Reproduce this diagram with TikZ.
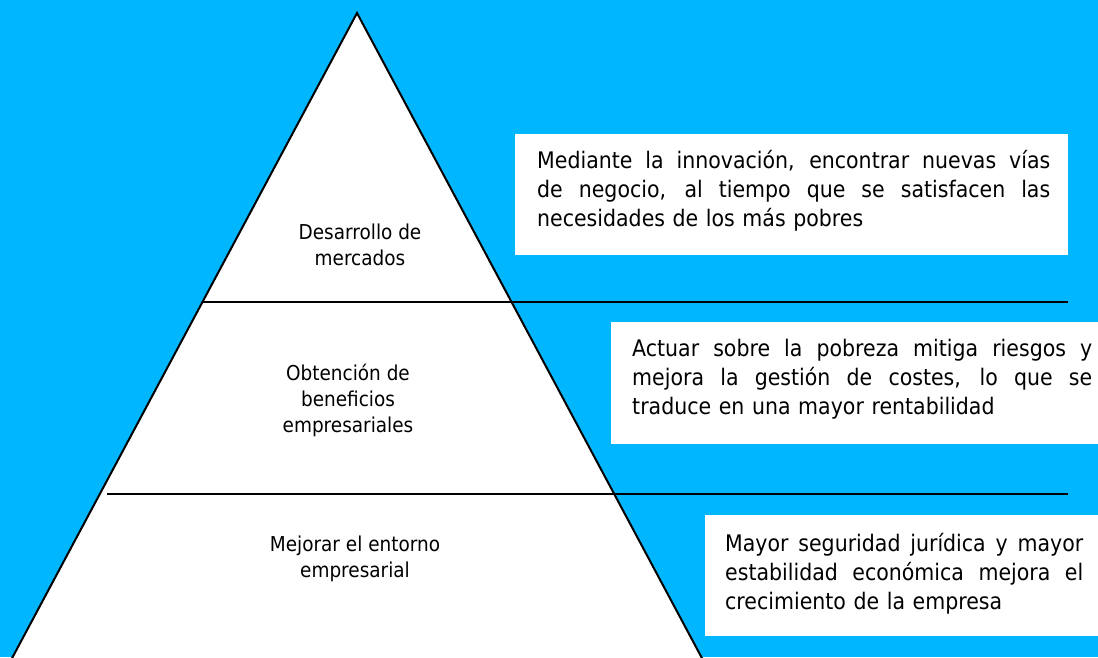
\documentclass[tikz,border=0pt]{standalone}
\usepackage{fontspec}
\setmainfont{DejaVu Sans}[FakeStretch=0.9]
\usepackage{tikz}
\usetikzlibrary{positioning, calc}
\definecolor{skyback}{RGB}{0,182,255}
\newcommand{\fullline}[1]{\makebox[\hsize][s]{\spaceskip=0.286em plus 1fil\relax #1}}

\begin{document}
\begin{tikzpicture}[x=1pt, y=-1pt]
  \tikzstyle{level}=[align=center, font=\fontsize{20.5}{26}\selectfont]
  \tikzstyle{note}=[fill=white, anchor=north west, inner sep=0pt]
  \tikzstyle{notetext}=[anchor=west, align=left, inner sep=0pt,
  font=\fontsize{22.8}{29}\selectfont]
  \tikzstyle{divider}=[line width=2pt]

  \clip (0,0) rectangle (1098,657);
  \fill[skyback] (0,0) rectangle (1098,657);

  % pyramid
  \coordinate (apex) at (357,13);
  \coordinate (baseL) at (-5,690);
  \coordinate (baseR) at (719,690);
  \draw[fill=white, line width=2pt] (apex) -- (baseL) -- (baseR) -- cycle;

  \coordinate (cut1L) at (202,302);
  \coordinate (cut1R) at (1068,302);
  \coordinate (cut2L) at (107,494);
  \coordinate (cut2R) at (1068,494);
  \draw[divider] (cut1L) -- (cut1R);
  \draw[divider] (cut2L) -- (cut2R);

  \node (lvl1) at (360,245) [level] {Desarrollo de\\ mercados};
  \node (lvl2) at (348,400) [level] {Obtención de\\ beneficios\\ empresariales};
  \node (lvl3) at (355,559) [level] {Mejorar el entorno\\ empresarial};

  % boxes
  \node (box1) at (515,134) [note, minimum width=553pt, minimum height=121pt] {};
  \node (box2) at (611,322) [note, minimum width=500pt, minimum height=122pt] {};
  \node (box3) at (705,515) [note, minimum width=420pt, minimum height=121pt] {};

  \node (txt1) at ($(box1.west)+(22,-4)$) [notetext, text width=513pt]
  {\fullline{Mediante la innovación, encontrar nuevas vías}\\
   \fullline{de negocio, al tiempo que se satisfacen las}\\
   necesidades de los más pobres};
  \node (txt2) at ($(box2.west)+(21,-4)$) [notetext, text width=460pt]
  {\fullline{Actuar sobre la pobreza mitiga riesgos y}\\
   \fullline{mejora la gestión de costes, lo que se}\\
   traduce en una mayor rentabilidad};
  \node (txt3) at ($(box3.west)+(20,-2)$) [notetext, text width=358pt]
  {\fullline{Mayor seguridad jurídica y mayor}\\
   \fullline{estabilidad económica mejora el}\\
   crecimiento de la empresa};

\end{tikzpicture}
\end{document}
